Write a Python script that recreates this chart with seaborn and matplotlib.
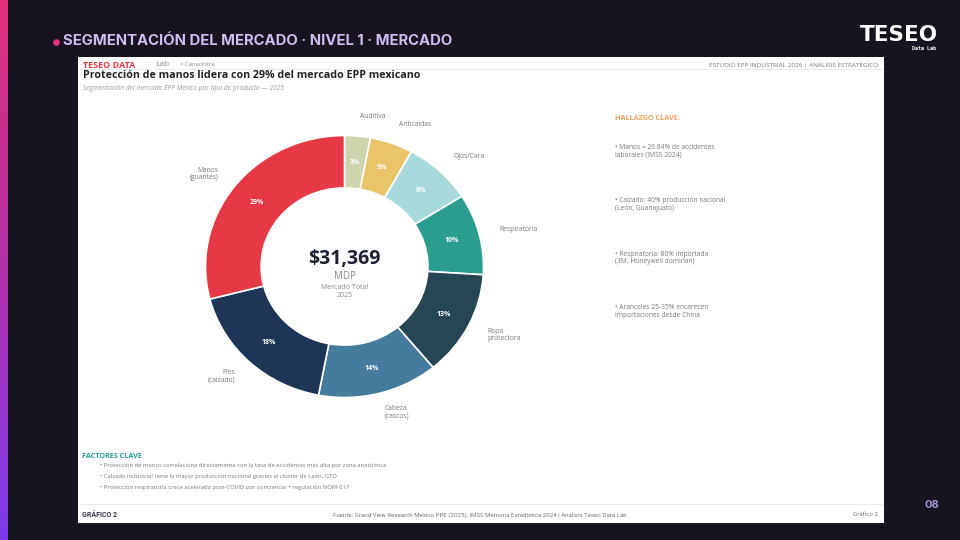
import numpy as np
import matplotlib
matplotlib.use("Agg")
import matplotlib.pyplot as plt
import seaborn as sns
from matplotlib.patches import Rectangle
from matplotlib.colors import LinearSegmentedColormap

# ---------------- data ----------------
categories = ["Auditiva", "Anticaidas", "Ojos/Cara", "Respiratoria",
              "Ropa\nprotectora", "Cabeza\n(cascos)", "Pies\n(calzado)", "Manos\n(guantes)"]
shares = [3, 5, 8, 10, 13, 14, 18, 29]
colors = ["#cdd5ae", "#e9c46a", "#a8dadc", "#2a9d8f",
          "#264653", "#457b9d", "#1d3557", "#e63946"]
total_value = "$31,369"
hallazgos = ["• Manos = 26.84% de accidentes\nlaborales (IMSS 2024)",
             "• Calzado: 40% producción nacional\n(León, Guanajuato)",
             "• Respiratoria: 80% importada\n(3M, Honeywell dominan)",
             "• Aranceles 25-35% encarecen\nimportaciones desde China"]
factores = ["• Protección de manos correlaciona directamente con la tasa de accidentes más alta por zona anatómica",
            "• Calzado industrial tiene la mayor producción nacional gracias al clúster de León, GTO",
            "• Protección respiratoria crece acelerada post-COVID por conciencia + regulación NOM-017"]

sns.set_theme(style="white")
plt.rcParams['font.family'] = ['Open Sans', 'DejaVu Sans']

W, H = 960, 540
fig = plt.figure(figsize=(9.6, 5.4), dpi=100)
fig.patch.set_facecolor("#17131f")


def fx(x):
    return x / W


def fy(y):
    return 1 - y / H


# background axes for decorations
bg = fig.add_axes([0, 0, 1, 1])
bg.set_xlim(0, W)
bg.set_ylim(H, 0)
bg.axis("off")

# left gradient bar
grad = np.linspace(0, 1, 256).reshape(-1, 1)
cmap = LinearSegmentedColormap.from_list("g", ["#e0307a", "#b02fa8", "#7c3aed"])
bg.imshow(grad, extent=[0, 8, H, 0], cmap=cmap, aspect="auto", zorder=1)

# header
bg.scatter([56], [42], s=14, color="#e8307e", zorder=3)
bg.text(63, 41, "SEGMENTACIÓN DEL MERCADO · NIVEL 1 · MERCADO", color="#cdbdf0",
        fontsize=10.7, fontweight="bold", va="center", ha="left", family=["Inter", "DejaVu Sans"])
bg.text(938, 35, "TESEO", color="white", fontsize=15.5, fontweight="bold", va="center", ha="right",
        family=["DejaVu Sans"])
bg.text(936, 48, "Data Lab", color="white", fontsize=3.6, fontweight="bold", va="center", ha="right",
        family=["DejaVu Sans Mono"])
bg.text(932, 505, "08", color="#a594d0", fontsize=8, fontweight="bold", va="center", ha="center",
        family=["Inter", "DejaVu Sans"])

# card
bg.add_patch(Rectangle((78, 57), 806, 466, facecolor="white", edgecolor="none", zorder=2))
bg.plot([80, 882], [69, 69], color="#e6e6e6", lw=0.6, zorder=3)
bg.plot([80, 882], [504, 504], color="#e6e6e6", lw=0.6, zorder=3)

bg.text(83, 65, "TESEO DATA", color="#e63946", fontsize=6.5, fontweight="bold", va="center", zorder=4)
bg.text(155, 65, "Lab", color="#888888", fontsize=6, va="center", zorder=4)
bg.text(180, 64, "× Canacintra", color="#888888", fontsize=4.3, va="center", zorder=4)
bg.text(878, 65, "ESTUDIO EPP INDUSTRIAL 2026 | ANÁLISIS ESTRATÉGICO", color="#777777",
        fontsize=4.6, va="center", ha="right", zorder=4)
bg.text(83, 75.5, "Protección de manos lidera con 29% del mercado EPP mexicano", color="#222222",
        fontsize=7.7, fontweight="bold", va="center", zorder=4)
bg.text(83, 88, "Segmentación del mercado EPP México por tipo de producto — 2025", color="#999999",
        fontsize=4.8, style="italic", va="center", zorder=4)

# right panel
bg.text(615, 119, "HALLAZGO CLAVE:", color="#f4a261", fontsize=5.2, fontweight="bold", va="center", zorder=4)
for i, t in enumerate(hallazgos):
    bg.text(615, 151 + i * 53.5, t, color="#777788", fontsize=4.8, va="center", ha="left",
            linespacing=1.15, zorder=4)

# bottom factors
bg.text(82, 456, "FACTORES CLAVE", color="#2a9d8f", fontsize=5.2, fontweight="bold", va="center", zorder=4)
for i, t in enumerate(factores):
    bg.text(100, 466 + i * 10.5, t, color="#777777", fontsize=4.25, va="center", zorder=4)

# footer
bg.text(82, 515, "GRÁFICO 2", color="#333344", fontsize=5, fontweight="bold", va="center", zorder=4,
        family=["Roboto", "DejaVu Sans"])
bg.text(480, 515, "Fuente: Grand View Research Mexico PPE (2025), IMSS Memoria Estadística 2024 | Análisis Teseo Data Lab",
        color="#777777", fontsize=4.4, va="center", ha="center", zorder=4, family=["Roboto", "DejaVu Sans"])
bg.text(878, 515, "Gráfico 2", color="#777777", fontsize=4.4, va="center", ha="right", zorder=4,
        family=["Roboto", "DejaVu Sans"])

# ---------------- donut ----------------
cx, cy, rx, ry = 344.5, 266.5, 139, 131
ax = fig.add_axes([fx(cx - rx), fy(cy + ry), 2 * rx / W, 2 * ry / H])
ax.set_facecolor("none")
wedges, _ = ax.pie(shares, colors=colors, startangle=90, counterclock=False, radius=1,
                   wedgeprops=dict(width=0.4, edgecolor="white", linewidth=1.2))
ax.set_aspect("auto")
ax.set_xlim(-1, 1)
ax.set_ylim(-1, 1)
ax.set_zorder(5)

cum = np.cumsum([0] + shares[:-1])
tot = sum(shares)
for s, c0, lab in zip(shares, cum, categories):
    ang = np.deg2rad(90 - (c0 + s / 2) / tot * 360)
    dx, dy = np.cos(ang), np.sin(ang)
    ax.text(0.8 * dx, 0.8 * dy, f"{s}%", color="white", fontsize=5, fontweight="bold",
            ha="center", va="center")
    ax.text(1.15 * dx, 1.15 * dy, lab, color="#777788", fontsize=4.9, va="center",
            ha="left" if dx >= 0 else "right", multialignment="left" if dx >= 0 else "right",
            linespacing=1.1, clip_on=False)

ax.text(0, 0.06, total_value, color="#1c2033", fontsize=14, fontweight="bold", ha="center", va="center")
ax.text(0, -0.08, "MDP", color="#888899", fontsize=7, ha="center", va="center")
ax.text(0, -0.16, "Mercado Total", color="#888899", fontsize=5, ha="center", va="center")
ax.text(0, -0.22, "2025", color="#888899", fontsize=5, ha="center", va="center")

fig.savefig("out.png", dpi=100, facecolor=fig.get_facecolor())
